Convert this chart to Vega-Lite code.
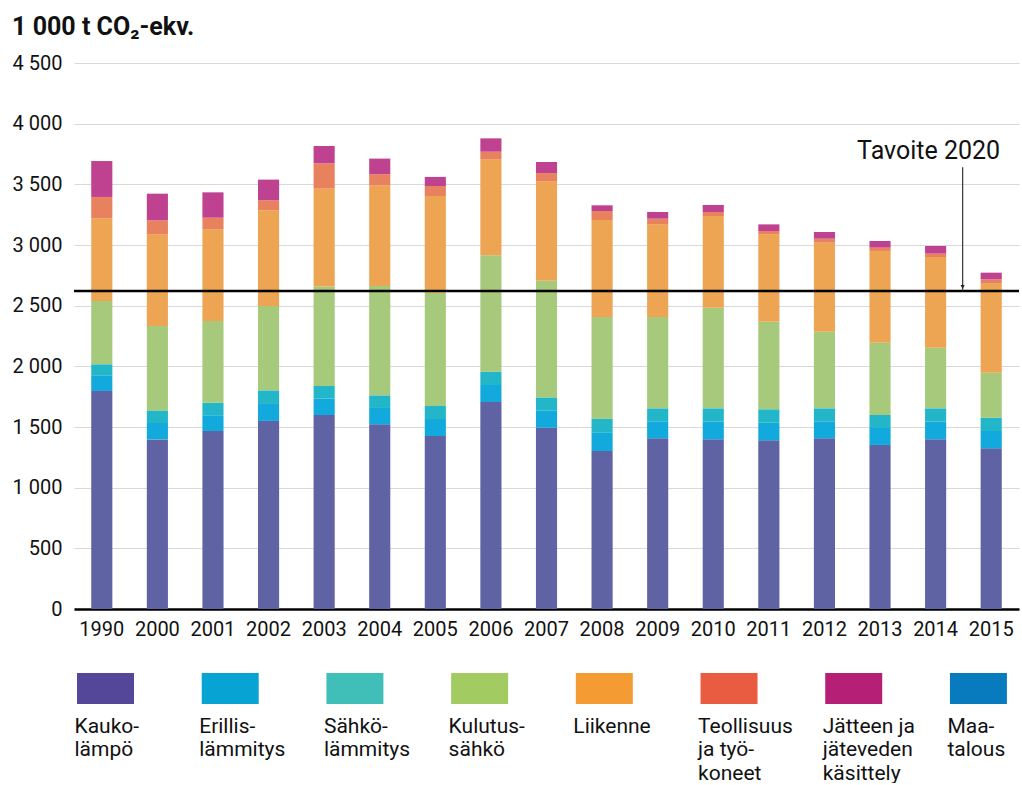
{
  "$schema": "https://vega.github.io/schema/vega-lite/v6.json",
  "padding": {"left": 12, "top": 15, "right": 0, "bottom": 0},
  "background": "white",
  "config": {
    "font": "Roboto",
    "view": {"stroke": null},
    "concat": {"spacing": 34},
    "axis": {"labelColor": "#111", "labelFont": "Roboto"}
  },
  "datasets": {
    "main": [
      {"year": "1990", "Kaukolämpö": 1797, "Erillislämmitys": 125, "Sähkölämmitys": 95, "Kulutussähkö": 522, "Liikenne": 681, "Teollisuus ja työkoneet": 176, "Jätteen ja jäteveden käsittely": 296},
      {"year": "2000", "Kaukolämpö": 1398, "Erillislämmitys": 135, "Sähkölämmitys": 104, "Kulutussähkö": 695, "Liikenne": 756, "Teollisuus ja työkoneet": 115, "Jätteen ja jäteveden käsittely": 220},
      {"year": "2001", "Kaukolämpö": 1467, "Erillislämmitys": 130, "Sähkölämmitys": 103, "Kulutussähkö": 674, "Liikenne": 755, "Teollisuus ja työkoneet": 96, "Jätteen ja jäteveden käsittely": 209},
      {"year": "2002", "Kaukolämpö": 1550, "Erillislämmitys": 140, "Sähkölämmitys": 112, "Kulutussähkö": 695, "Liikenne": 789, "Teollisuus ja työkoneet": 82, "Jätteen ja jäteveden käsittely": 171},
      {"year": "2003", "Kaukolämpö": 1599, "Erillislämmitys": 135, "Sähkölämmitys": 104, "Kulutussähkö": 819, "Liikenne": 810, "Teollisuus ja työkoneet": 206, "Jätteen ja jäteveden käsittely": 143},
      {"year": "2004", "Kaukolämpö": 1522, "Erillislämmitys": 135, "Sähkölämmitys": 104, "Kulutussähkö": 901, "Liikenne": 830, "Teollisuus ja työkoneet": 91, "Jätteen ja jäteveden käsittely": 129},
      {"year": "2005", "Kaukolämpö": 1426, "Erillislämmitys": 140, "Sähkölämmitys": 107, "Kulutussähkö": 934, "Liikenne": 797, "Teollisuus ja työkoneet": 82, "Jätteen ja jäteveden käsittely": 75},
      {"year": "2006", "Kaukolämpö": 1706, "Erillislämmitys": 140, "Sähkölämmitys": 110, "Kulutussähkö": 959, "Liikenne": 791, "Teollisuus ja työkoneet": 63, "Jätteen ja jäteveden käsittely": 110},
      {"year": "2007", "Kaukolämpö": 1494, "Erillislämmitys": 140, "Sähkölämmitys": 110, "Kulutussähkö": 962, "Liikenne": 819, "Teollisuus ja työkoneet": 68, "Jätteen ja jäteveden käsittely": 91},
      {"year": "2008", "Kaukolämpö": 1302, "Erillislämmitys": 150, "Sähkölämmitys": 117, "Kulutussähkö": 838, "Liikenne": 799, "Teollisuus ja työkoneet": 74, "Jätteen ja jäteveden käsittely": 47},
      {"year": "2009", "Kaukolämpö": 1407, "Erillislämmitys": 140, "Sähkölämmitys": 107, "Kulutussähkö": 753, "Liikenne": 763, "Teollisuus ja työkoneet": 47, "Jätteen ja jäteveden käsittely": 55},
      {"year": "2010", "Kaukolämpö": 1399, "Erillislämmitys": 145, "Sähkölämmitys": 110, "Kulutussähkö": 829, "Liikenne": 756, "Teollisuus ja työkoneet": 33, "Jätteen ja jäteveden käsittely": 58},
      {"year": "2011", "Kaukolämpö": 1390, "Erillislämmitys": 145, "Sähkölämmitys": 111, "Kulutussähkö": 722, "Liikenne": 720, "Teollisuus ja työkoneet": 27, "Jätteen ja jäteveden käsittely": 55},
      {"year": "2012", "Kaukolämpö": 1407, "Erillislämmitys": 140, "Sähkölämmitys": 107, "Kulutussähkö": 632, "Liikenne": 733, "Teollisuus ja työkoneet": 33, "Jätteen ja jäteveden käsittely": 55},
      {"year": "2013", "Kaukolämpö": 1352, "Erillislämmitys": 140, "Sähkölämmitys": 107, "Kulutussähkö": 596, "Liikenne": 756, "Teollisuus ja työkoneet": 27, "Jätteen ja jäteveden käsittely": 55},
      {"year": "2014", "Kaukolämpö": 1399, "Erillislämmitys": 145, "Sähkölämmitys": 110, "Kulutussähkö": 500, "Liikenne": 747, "Teollisuus ja työkoneet": 28, "Jätteen ja jäteveden käsittely": 63},
      {"year": "2015", "Kaukolämpö": 1324, "Erillislämmitys": 143, "Sähkölämmitys": 110, "Kulutussähkö": 371, "Liikenne": 733, "Teollisuus ja työkoneet": 36, "Jätteen ja jäteveden käsittely": 55}
    ],
    "target": [{"year": "2014", "goal": 2620, "top": 3640, "tip": 2655, "labely": 3775, "label": "Tavoite 2020"}],
    "legend": [
      {"label": "Kauko-|lämpö"},
      {"label": "Erillis-|lämmitys"},
      {"label": "Sähkö-|lämmitys"},
      {"label": "Kulutus-|sähkö"},
      {"label": "Liikenne"},
      {"label": "Teollisuus|ja työ-|koneet"},
      {"label": "Jätteen ja|jäteveden|käsittely"},
      {"label": "Maa-|talous"}
    ]
  },
  "vconcat": [
    {
      "width": 945,
      "height": 546,
      "title": {"text": "1 000 t CO₂-ekv.", "anchor": "start", "frame": "bounds", "fontSize": 25, "fontWeight": "bold", "color": "#111", "font": "Roboto", "offset": 13},
      "layer": [
        {
          "data": {"name": "main"},
          "transform": [
            {"fold": ["Kaukolämpö", "Erillislämmitys", "Sähkölämmitys", "Kulutussähkö", "Liikenne", "Teollisuus ja työkoneet", "Jätteen ja jäteveden käsittely"], "as": ["cat", "value"]},
            {"calculate": "indexof(['Kaukolämpö', 'Erillislämmitys', 'Sähkölämmitys', 'Kulutussähkö', 'Liikenne', 'Teollisuus ja työkoneet', 'Jätteen ja jäteveden käsittely'], datum.cat)", "as": "rank"}
          ],
          "mark": {"type": "bar"},
          "encoding": {
            "x": {"field": "year", "type": "ordinal", "title": null,
              "scale": {"paddingInner": 0.62, "paddingOuter": 0.31},
              "axis": {"labelAngle": 0, "labelFontSize": 20, "labelPadding": 10, "ticks": false, "domainColor": "#000", "domainWidth": 2.5, "grid": false}},
            "y": {"field": "value", "type": "quantitative", "stack": "zero", "title": null,
              "scale": {"domain": [0, 4500], "nice": false},
              "axis": {"values": [0, 500, 1000, 1500, 2000, 2500, 3000, 3500, 4000, 4500], "labelExpr": "replace(format(datum.value, ','), ',', ' ')", "labelFontSize": 20, "labelPadding": 12, "ticks": false, "domain": false, "gridColor": "#d9d9d9", "gridWidth": 1.2}},
            "order": {"field": "rank", "type": "quantitative", "sort": "ascending"},
            "color": {"field": "cat", "type": "nominal", "legend": null,
              "scale": {"domain": ["Kaukolämpö", "Erillislämmitys", "Sähkölämmitys", "Kulutussähkö", "Liikenne", "Teollisuus ja työkoneet", "Jätteen ja jäteveden käsittely"],
                "range": ["#5f63a4", "#12a9dc", "#22b6c8", "#a6c97c", "#eea553", "#e8815e", "#bf4290"]}}
          }
        },
        {
          "data": {"name": "target"},
          "mark": {"type": "rule", "color": "#000", "strokeWidth": 2.5},
          "encoding": {"y": {"field": "goal", "type": "quantitative"}}
        },
        {
          "data": {"name": "target"},
          "mark": {"type": "rule", "color": "#333", "strokeWidth": 1.2},
          "encoding": {
            "x": {"field": "year", "type": "ordinal", "bandPosition": 1.78},
            "y": {"field": "top", "type": "quantitative"},
            "y2": {"field": "goal"}
          }
        },
        {
          "data": {"name": "target"},
          "mark": {"type": "point", "shape": "triangle-down", "filled": true, "color": "#222", "size": 18, "opacity": 1},
          "encoding": {
            "x": {"field": "year", "type": "ordinal", "bandPosition": 1.78},
            "y": {"field": "tip", "type": "quantitative"}
          }
        },
        {
          "data": {"name": "target"},
          "mark": {"type": "text", "fontSize": 25, "font": "Roboto", "color": "#111", "align": "center", "baseline": "middle"},
          "encoding": {
            "x": {"field": "year", "type": "ordinal", "bandPosition": 0.17},
            "y": {"field": "labely", "type": "quantitative"},
            "text": {"field": "label"}
          }
        }
      ]
    },
    {
      "width": 945,
      "height": 31,
      "data": {"name": "legend"},
      "mark": {"type": "rect"},
      "encoding": {
        "x": {"field": "label", "type": "nominal", "sort": null, "title": null,
          "scale": {"paddingInner": 0.543, "paddingOuter": 0.0605, "align": 0.2},
          "axis": {"labelExpr": "split(datum.label, '|')", "labelAngle": 0, "labelAlign": "left", "labelBaseline": "top", "labelOffset": -31, "labelPadding": 11, "labelFontSize": 21, "labelLineHeight": 23.5, "ticks": false, "domain": false, "grid": false}},
        "color": {"field": "label", "type": "nominal", "legend": null, "sort": null,
          "scale": {"range": ["#54479a", "#07a3d2", "#3fbfb8", "#a2cc61", "#f59b34", "#e95c42", "#b51f76", "#087bbf"]}}
      }
    }
  ],
  "resolve": {"scale": {"color": "independent", "x": "independent"}}
}
